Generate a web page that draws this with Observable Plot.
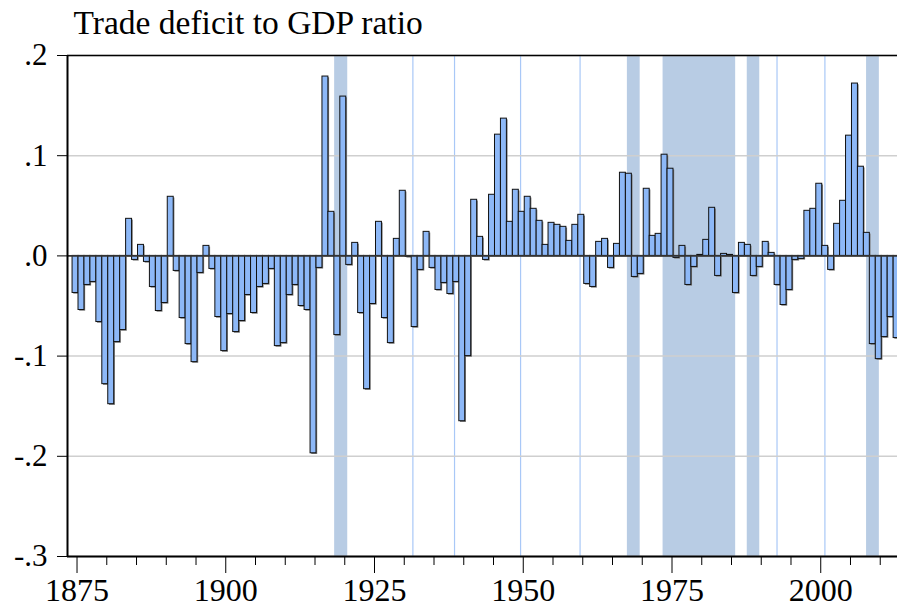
<!DOCTYPE html>
<html>
<head>
<meta charset="utf-8">
<script src="https://cdn.jsdelivr.net/npm/d3@7"></script>
<script src="https://cdn.jsdelivr.net/npm/@observablehq/plot@0.6"></script>
<style>
  body { margin: 0; background: white; }
</style>
</head>
<body>
<div id="chart"></div>
<script>
// years 1875..2013, one value per year
const firstYear = 1875;
const ratio = [
  -0.037, -0.054, -0.029, -0.026, -0.066, -0.128, -0.148, -0.086, -0.074, 0.037,
  -0.004, 0.011, -0.006, -0.031, -0.055, -0.047, 0.059, -0.015, -0.062, -0.088,
  -0.106, -0.017, 0.010, -0.013, -0.061, -0.095, -0.058, -0.076, -0.065, -0.039,
  -0.057, -0.031, -0.028, -0.013, -0.090, -0.087, -0.039, -0.029, -0.050, -0.054,
  -0.197, -0.012, 0.179, 0.044, -0.079, 0.159, -0.009, 0.013, -0.057, -0.133,
  -0.048, 0.034, -0.062, -0.087, 0.017, 0.065, -0.001, -0.071, -0.014, 0.024,
  -0.012, -0.034, -0.027, -0.038, -0.026, -0.165, -0.100, 0.056, 0.019, -0.004,
  0.061, 0.121, 0.137, 0.034, 0.066, 0.044, 0.059, 0.047, 0.035, 0.011,
  0.033, 0.031, 0.029, 0.015, 0.031, 0.041, -0.028, -0.031, 0.014, 0.017,
  -0.012, 0.012, 0.083, 0.082, -0.021, -0.018, 0.067, 0.020, 0.022, 0.101,
  0.087, -0.002, 0.010, -0.029, -0.011, 0.001, 0.016, 0.048, -0.020, 0.002,
  0.001, -0.037, 0.013, 0.011, -0.020, -0.011, 0.014, 0.003, -0.029, -0.049,
  -0.034, -0.004, -0.003, 0.045, 0.047, 0.072, 0.010, -0.014, 0.032, 0.055,
  0.120, 0.172, 0.089, 0.023, -0.088, -0.103, -0.081, -0.061, -0.082
];

// shaded periods (start, end) and single-period markers
const shadeStart = [1918.3, 1967.5, 1973.5, 1987.65, 2007.7];
const shadeEnd   = [1920.5, 1969.65, 1985.7, 1989.75, 2009.85];
const markerLines = [1931.45, 1938.45, 1949.55, 1959.55, 1992.65, 2000.7];

const yTicks = [0.2, 0.1, 0, -0.1, -0.2, -0.3];
const xMajor = [1875, 1900, 1925, 1950, 1975, 2000];
const xMinor = d3.range(1880, 2013, 5).filter(y => !xMajor.includes(y));

const data = ratio.map((v, i) => ({year: firstYear + i, value: v}));
const shades = shadeStart.map((s, i) => ({start: s, end: shadeEnd[i]}));

const fmtY = d => d === 0 ? ".0" : d3.format(".1f")(d).replace("0.", ".").replace("−", "-");

const chart = Plot.plot({
  width: 897,
  height: 608,
  marginLeft: 67,
  marginRight: 0,
  marginTop: 55,
  marginBottom: 52,
  style: {
    background: "white",
    fontFamily: "'Liberation Serif', 'Times New Roman', serif",
    fontSize: "31px",
    color: "black"
  },
  x: {domain: [1873.4, 2012.9], label: null},
  y: {domain: [-0.3, 0.2], label: null},
  marks: [
    Plot.rect(shades, {x1: "start", x2: "end", fill: "#b8cce4"}),
    Plot.ruleX(markerLines, {stroke: "#a9c8f7", strokeWidth: 1.2}),
    Plot.gridY(yTicks.filter(d => d !== 0), {stroke: "#cfcfcf", strokeOpacity: 1, strokeWidth: 1.5}),
    // shadow then bar
    Plot.rectY(data, {x1: d => d.year - 0.75, x2: d => d.year + 0.25, y1: 0, y2: "value",
      fill: "#7a7a7a", dx: 1.2, dy: 1.2, clip: true}),
    Plot.rectY(data, {x1: d => d.year - 0.75, x2: d => d.year + 0.25, y1: 0, y2: "value",
      fill: "#8db8f7", stroke: "#111", strokeWidth: 1, clip: true}),
    Plot.ruleY([0], {stroke: "#333", strokeWidth: 1.6}),
    Plot.ruleY([0.2], {stroke: "black", strokeWidth: 1.5}),
    Plot.ruleY([-0.3], {stroke: "black", strokeWidth: 2}),
    Plot.ruleX([1873.4], {stroke: "black", strokeWidth: 2}),
    Plot.axisY(yTicks, {tickSize: 10, tickPadding: 10, tickFormat: fmtY, fontSize: 31, label: null}),
    Plot.axisX(xMajor, {tickSize: 17, tickPadding: 5, tickFormat: d => String(d), fontSize: 32, label: null}),
    Plot.axisX(xMinor, {tickSize: 9, tickFormat: () => "", label: null}),
    Plot.text(["Trade deficit to GDP ratio"], {frameAnchor: "top-left", textAnchor: "start",
      lineAnchor: "bottom", dx: 6, dy: -22, fontSize: 33.5})
  ]
});

document.getElementById("chart").append(chart);
</script>
</body>
</html>
